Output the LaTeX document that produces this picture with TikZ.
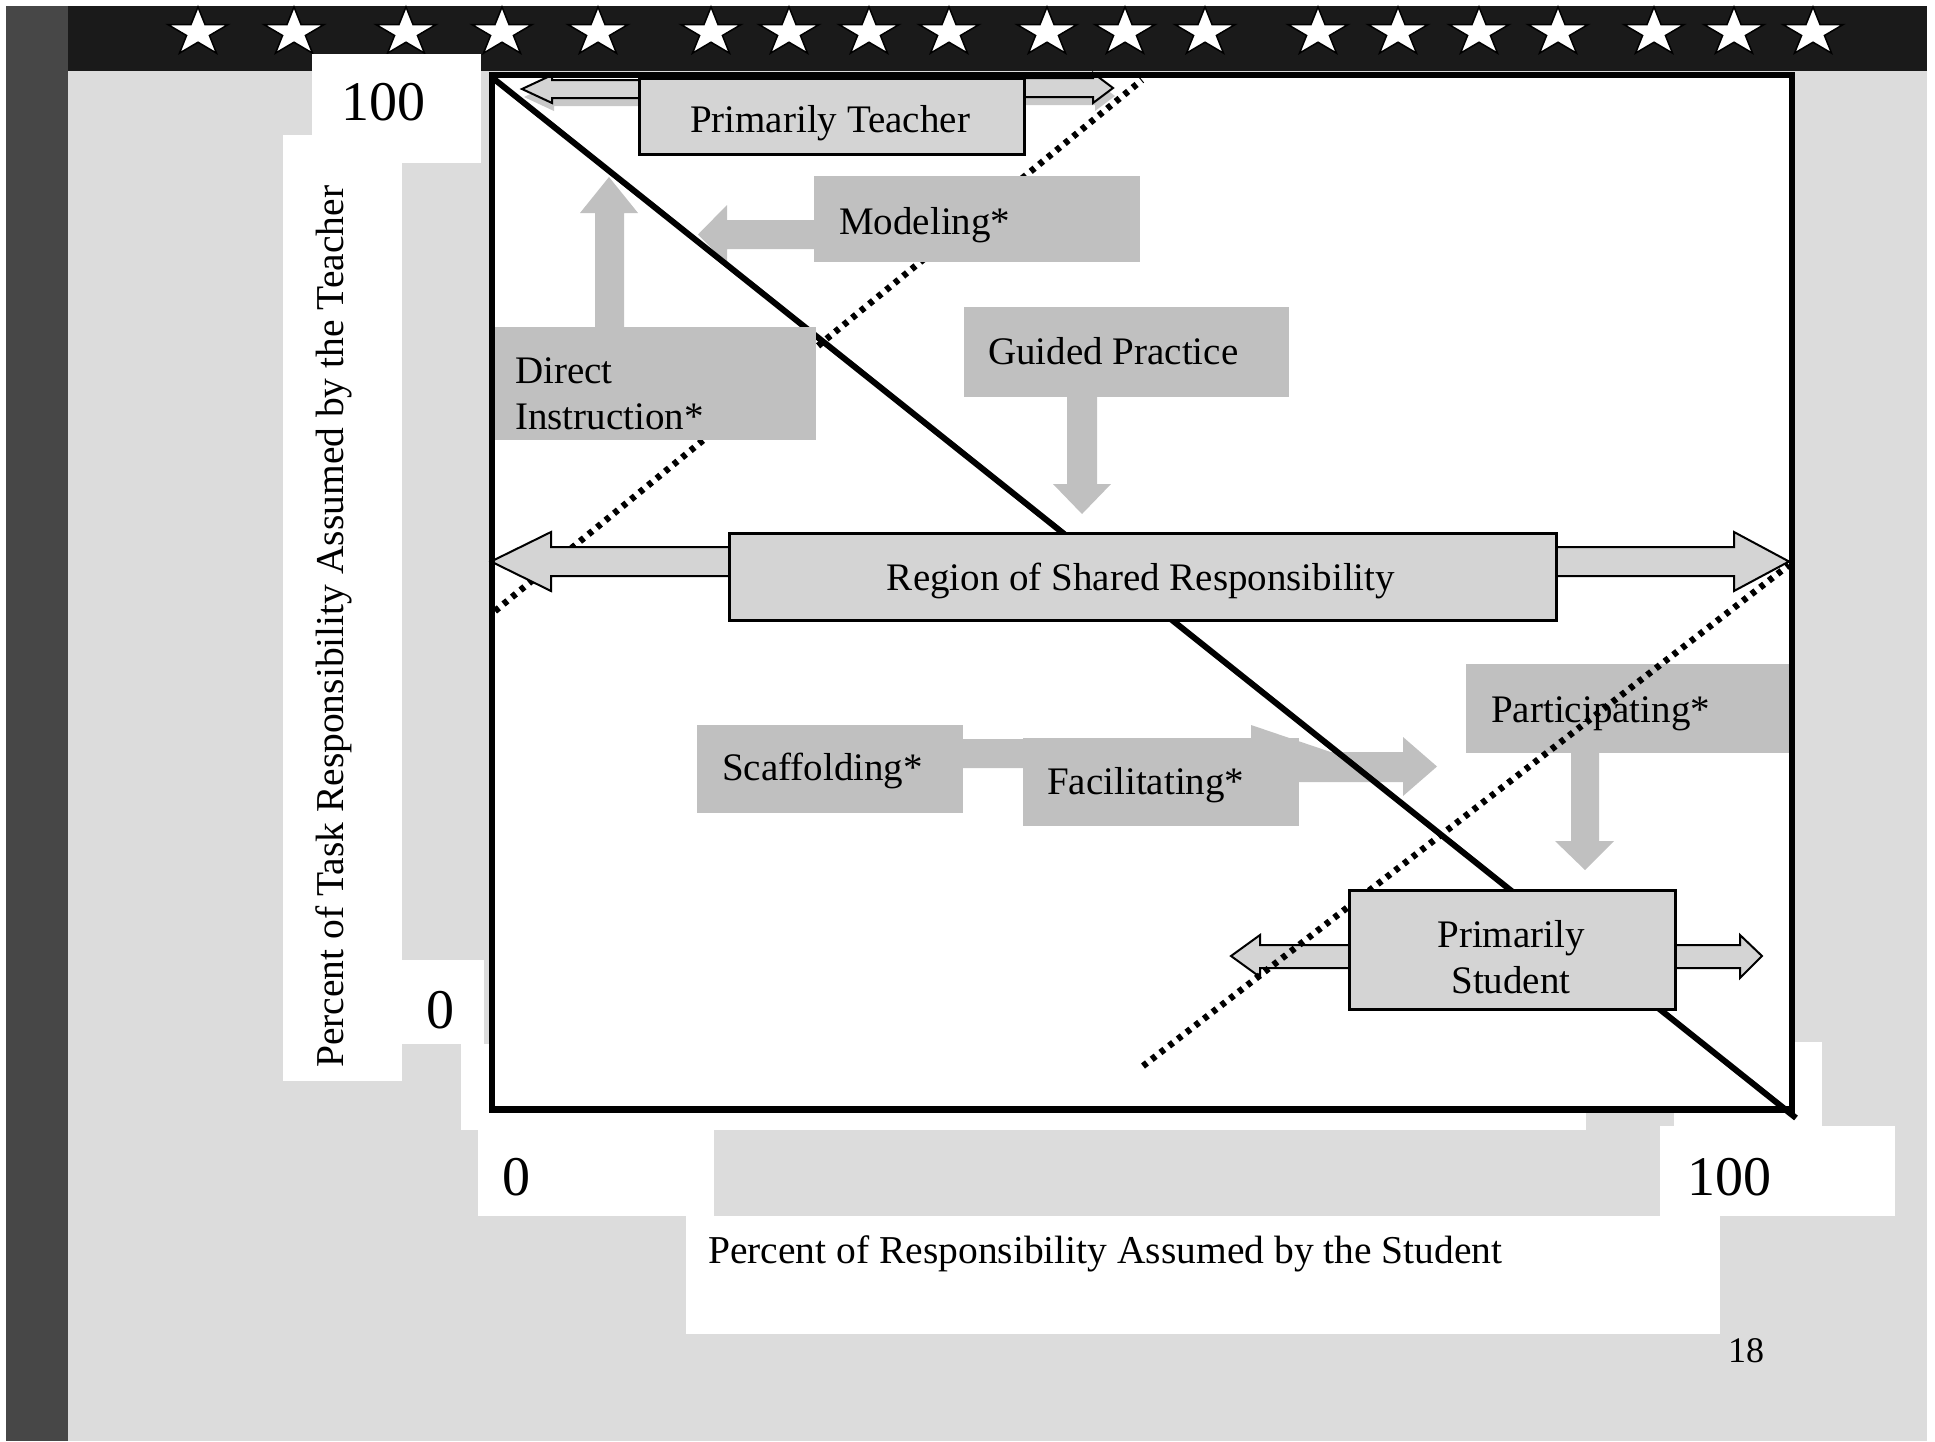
\documentclass[tikz,border=0pt]{standalone}
\usepackage{fontspec}
\setmainfont{Liberation Serif}
\definecolor{slidebg}{HTML}{DCDCDC}
\definecolor{stripgray}{HTML}{474747}
\definecolor{barblack}{HTML}{1A1A1A}
\definecolor{boxgray}{HTML}{C0C0C0}
\definecolor{lightbox}{HTML}{D4D4D4}
\definecolor{shadowgray}{HTML}{C8C8C8}
\newcommand\boxfont{\fontsize{39}{46}\selectfont}
\newcommand\axisfont{\fontsize{39.5}{46}\selectfont}
\newcommand\numfont{\fontsize{56}{60}\selectfont}
\newcommand\pagefont{\fontsize{36}{40}\selectfont}
\begin{document}
\begin{tikzpicture}[x=1pt,y=-1pt,
  graybox/.style={fill=boxgray, draw=none, inner sep=0pt, anchor=north west},
  outbox/.style={fill=lightbox, draw=black, line width=2.5pt, inner sep=0pt, anchor=north west},
  grayarrow/.style={fill=boxgray, draw=none},
  outarrow/.style={fill=lightbox, draw=black, line width=2pt, line join=miter},
  txt/.style={inner sep=0pt, font=\boxfont},
  num/.style={inner sep=0pt, font=\numfont, anchor=base},
  patch/.style={fill=white, draw=none},
  dotline/.style={line width=6.5pt, dash pattern=on 5pt off 6pt},
  starpic/.pic={
    \filldraw[fill=white, draw=black, line width=1.5pt, yscale=-0.81]
      (90:31.5) -- (126:12) -- (162:31.5) -- (198:12) -- (234:31.5) -- (270:12)
      -- (306:31.5) -- (342:12) -- (18:31.5) -- (54:12) -- cycle;
  }]
\useasboundingbox (0,0) rectangle (1935,1441);
% slide background
\fill[white] (0,0) rectangle (1935,1441);
\fill[slidebg] (6,6) rectangle (1927,1441);
\fill[stripgray] (6,6) rectangle (68,1441);
\fill[barblack] (68,6) rectangle (1927,71);
% stars
\foreach \sx in {198,294,406,502,598,711,789,869,949,1047,1125,1205,1318,1398,1479,1558,1654,1734,1813}
  \pic at (\sx,32.5) {starpic};
% white text-box patches of the slide
\fill[patch] (312,54) rectangle (481,163);
\fill[patch] (283,135) rectangle (402,1081);
\fill[patch] (402,960) rectangle (484,1044);
\fill[patch] (461,1044) rectangle (491,1126);
\fill[patch] (461,1106) rectangle (1586,1130);
\fill[patch] (1674,1106) rectangle (1822,1126);
\fill[patch] (1792,1042) rectangle (1822,1126);
\fill[patch] (478,1126) rectangle (714,1216);
\fill[patch] (1660,1126) rectangle (1895,1216);
\fill[patch] (686,1216) rectangle (1720,1334);
% plot interior
\fill[white] (490,72) rectangle (1792,1110);

% gray block arrows (under the lines)
\fill[grayarrow] (595,330) -- (595,213) -- (580,213) -- (609,177) -- (638,213) -- (624,213) -- (624,330) -- cycle;
\fill[grayarrow] (816,220) -- (727,220) -- (727,205) -- (698,234.5) -- (727,264) -- (727,249) -- (816,249) -- cycle;
\fill[grayarrow] (1067,395) -- (1067,484) -- (1053,484) -- (1082,514) -- (1111,484) -- (1097,484) -- (1097,395) -- cycle;
\fill[grayarrow] (960,739) -- (1251,739) -- (1251,725) -- (1335,753.5) -- (1251,782) -- (1251,768) -- (960,768) -- cycle;
\fill[grayarrow] (1297,752) -- (1403,752) -- (1403,737) -- (1437,766.5) -- (1403,796) -- (1403,782) -- (1297,782) -- cycle;
\fill[grayarrow] (1571,751) -- (1571,841) -- (1555,841) -- (1585,870) -- (1614,841) -- (1599,841) -- (1599,751) -- cycle;

% gray boxes under the lines
\node[graybox, minimum width=266pt, minimum height=88pt] (scaf) at (697,725) {};
\node[graybox, minimum width=276pt, minimum height=88pt] (fac) at (1023,738) {};
\node[graybox, minimum width=326pt, minimum height=89pt] (part) at (1466,664) {};
\node[txt, anchor=base west] (tScaf) at (722,780) {Scaffolding*};
\node[txt, anchor=base west] (tFac) at (1047,794) {Facilitating*};
\node[txt, anchor=base west] (tPart) at (1491,722) {Participating*};

% outlined arrows under the lines
\fill[shadowgray] (640,88) -- (554,88) -- (554,83) -- (524,97) -- (554,111) -- (554,106) -- (640,106) -- cycle;
\fill[shadowgray] (1021,86) -- (1095,86) -- (1095,81) -- (1115,96) -- (1095,111) -- (1095,105) -- (1021,105) -- cycle;
\draw[outarrow] (640,80) -- (552,80) -- (552,75) -- (522,89) -- (552,103) -- (552,98) -- (640,98) -- cycle;
\draw[outarrow] (1021,78) -- (1093,78) -- (1093,73) -- (1113,88) -- (1093,103) -- (1093,97) -- (1021,97) -- cycle;
\draw[outarrow] (1350,945) -- (1260,945) -- (1260,935) -- (1231,956) -- (1260,977) -- (1260,968) -- (1350,968) -- cycle;

% lines
\coordinate (dA) at (494,79);
\coordinate (dB) at (1796,1118);
\coordinate (u1) at (495,611);
\coordinate (u2) at (1142,80);
\coordinate (l1) at (1143,1066);
\coordinate (l2) at (1789,565);
\draw[line width=6pt] (dA) -- (dB);
\draw[dotline] (u1) -- (u2);
\draw[dotline] (l1) -- (l2);

% boxes above the lines
\node[graybox, minimum width=325pt, minimum height=113pt] (direct) at (491,327) {};
\node[graybox, minimum width=326pt, minimum height=86pt] (model) at (814,176) {};
\node[graybox, minimum width=325pt, minimum height=90pt] (guided) at (964,307) {};
\node[txt, anchor=base west] (tDirect1) at (515,383) {Direct};
\node[txt, anchor=base west] (tDirect2) at (515,429) {Instruction*};
\node[txt, anchor=base west] (tModel) at (839,234) {Modeling*};
\node[txt, anchor=base west] (tGuided) at (988,364) {Guided Practice};

\draw[outarrow] (730,547) -- (551,547) -- (551,532) -- (491,561.5) -- (551,591) -- (551,576) -- (730,576) -- cycle;
\draw[outarrow] (1553,547) -- (1734,547) -- (1734,532) -- (1789,561.5) -- (1734,591) -- (1734,576) -- (1553,576) -- cycle;
\draw[outarrow] (1672,945) -- (1740,945) -- (1740,935) -- (1762,956) -- (1740,978) -- (1740,968) -- (1672,968) -- cycle;

\node[outbox, minimum width=827pt, minimum height=87pt] (region) at (728,532) {};
\node[outbox, minimum width=326pt, minimum height=119pt] (student) at (1348,889) {};
\node[outbox, minimum width=385pt, minimum height=76pt] (teacher) at (638,77) {};
\node[txt, anchor=base] (tRegion) at (1141,590) {Region of Shared Responsibility};
\node[txt, anchor=base] (tStu1) at (1511,947) {Primarily};
\node[txt, anchor=base] (tStu2) at (1511,993) {Student};
\node[txt, anchor=base] (tTeacher) at (830,132) {Primarily Teacher};

% frame
\draw[line width=6pt] (492,75) rectangle (1792,1109);
\draw[line width=7pt] (489,1109) -- (1795,1109);

% axis numbers and labels
\node[num] (n100y) at (383,120) {100};
\node[num] (n0y) at (440,1028) {0};
\node[num] (n0x) at (516,1195) {0};
\node[num] (n100x) at (1729,1195) {100};
\node[inner sep=0pt, font=\axisfont, anchor=base west] (xlabel) at (708,1263) {Percent of Responsibility Assumed by the Student};
\node[inner sep=0pt, font=\axisfont, anchor=base west, rotate=90] (ylabel) at (343,1068) {Percent of Task Responsibility Assumed by the Teacher};
\node[inner sep=0pt, font=\pagefont, anchor=base] (page) at (1746,1362) {18};
\end{tikzpicture}
\end{document}
